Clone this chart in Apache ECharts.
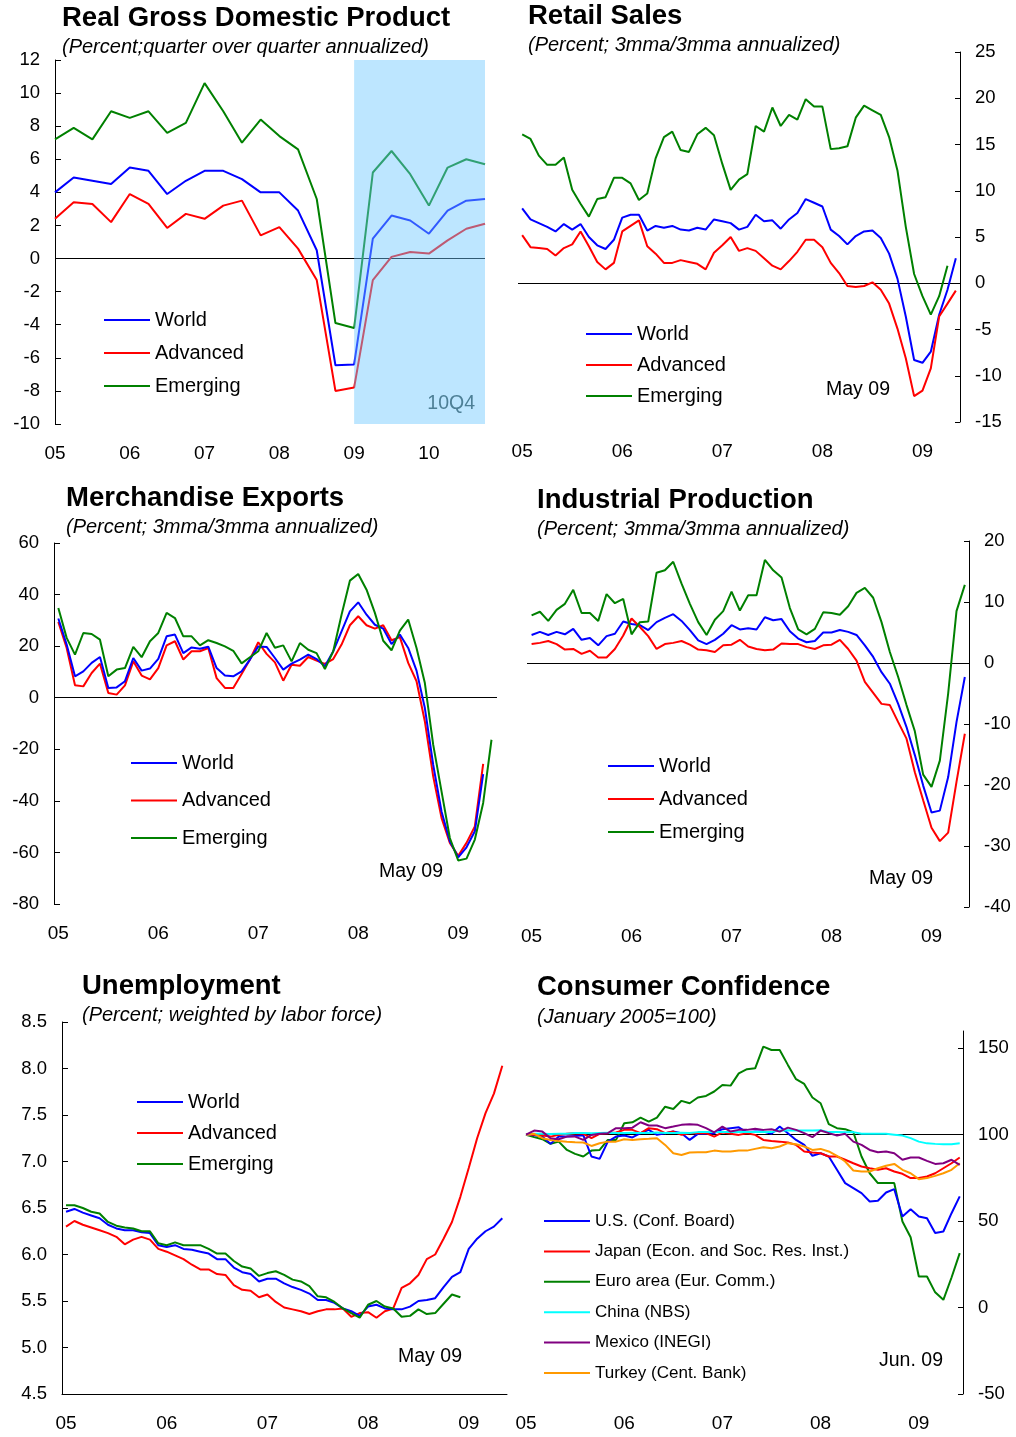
<!DOCTYPE html>
<html>
<head>
<meta charset="utf-8">
<script src="https://cdn.jsdelivr.net/npm/echarts@6/dist/echarts.min.js"></script>
<style>
  html, body { margin: 0; padding: 0; background: #fff; }
  #chart { width: 1016px; height: 1437px; }
</style>
</head>
<body>
<div id="chart"></div>
<script>
// year tick labels (x axes count months from Jan 2005)
const yearLabels = ['05', '06', '07', '08', '09', '10']
const seriesNames = ['World', 'Advanced', 'Emerging']

// Real GDP, quarterly 05Q1..10Q4
const gdpWorld = [4.0, 4.9, 4.7, 4.5, 5.5, 5.3, 3.9, 4.7, 5.3, 5.3, 4.8, 4.0, 4.0, 2.9, 0.5, -6.45, -6.4, 1.2, 2.6, 2.3, 1.5, 2.9, 3.5, 3.6]
const gdpAdvanced = [2.4, 3.4, 3.3, 2.2, 3.9, 3.3, 1.85, 2.7, 2.4, 3.2, 3.5, 1.4, 1.9, 0.6, -1.3, -8.0, -7.8, -1.3, 0.1, 0.4, 0.3, 1.1, 1.8, 2.1]
const gdpEmerging = [7.2, 7.9, 7.2, 8.9, 8.5, 8.9, 7.6, 8.2, 10.6, 8.9, 7.0, 8.4, 7.4, 6.6, 3.6, -3.9, -4.2, 5.2, 6.5, 5.1, 3.2, 5.5, 6.0, 5.7]

// Retail sales, monthly from Jan 05
const retailWorld = [8.1, 6.9, 6.5, 6.1, 5.6, 6.4, 5.8, 6.4, 5.0, 4.1, 3.7, 4.7, 7.1, 7.4, 7.4, 5.7, 6.2, 6.0, 6.2, 5.8, 5.7, 6.0, 5.8, 6.9, 6.7, 6.5, 5.8, 6.1, 7.4, 6.7, 6.8, 5.9, 6.9, 7.6, 9.1, 8.7, 8.3, 5.8, 5.1, 4.2, 5.1, 5.6, 5.7, 4.9, 3.2, 0.5, -3.6, -8.3, -8.6, -7.4, -3.4, -0.7, 2.7]
const retailAdvanced = [5.2, 3.9, 3.8, 3.7, 3.0, 3.8, 4.2, 5.6, 4.0, 2.3, 1.5, 2.2, 5.6, 6.2, 6.8, 4.0, 3.2, 2.2, 2.2, 2.5, 2.3, 2.1, 1.5, 3.3, 4.1, 5.0, 3.5, 3.8, 3.5, 2.7, 1.9, 1.5, 2.4, 3.4, 4.7, 4.7, 3.9, 2.2, 1.1, -0.3, -0.4, -0.3, 0.1, -0.7, -2.2, -4.9, -8.1, -12.2, -11.6, -9.2, -3.6, -2.2, -0.8]
const retailEmerging = [16.1, 15.6, 13.8, 12.8, 12.8, 13.6, 10.1, 8.6, 7.2, 9.1, 9.3, 11.4, 11.4, 10.8, 9.0, 9.7, 13.5, 15.8, 16.4, 14.4, 14.2, 16.1, 16.8, 16.0, 12.9, 10.1, 11.2, 11.8, 17.0, 16.4, 19.0, 17.0, 18.2, 17.7, 19.9, 19.1, 19.1, 14.5, 14.6, 14.8, 17.9, 19.2, 18.7, 18.2, 15.8, 12.2, 6.1, 1.0, -1.4, -3.4, -1.4, 1.9]

// Merchandise exports
const exportsWorld = [30.7, 20.6, 8.3, 10.2, 13.5, 15.8, 3.8, 4.0, 6.4, 15.4, 10.5, 11.3, 15.1, 23.8, 24.5, 17.3, 19.5, 19.0, 19.8, 11.5, 8.6, 8.3, 10.2, 14.8, 19.9, 19.7, 15.4, 10.9, 13.2, 14.8, 16.7, 15.0, 12.2, 18.0, 25.7, 33.5, 37.0, 32.2, 28.3, 26.8, 20.8, 24.5, 19.3, 10.5, -4.0, -26.0, -44.1, -55.7, -61.9, -58.0, -51.8, -29.6]
const exportsAdvanced = [29.4, 19.3, 4.8, 4.4, 9.6, 13.2, 1.8, 1.2, 4.8, 14.1, 8.6, 7.1, 11.5, 20.3, 21.9, 14.8, 18.0, 18.0, 19.3, 7.6, 3.8, 3.8, 9.2, 14.8, 21.5, 17.0, 13.7, 6.6, 12.8, 12.4, 15.8, 14.4, 13.1, 15.0, 20.6, 28.1, 31.6, 28.1, 26.8, 28.1, 22.3, 23.5, 13.5, 6.4, -9.2, -30.5, -46.6, -56.3, -61.3, -56.3, -49.9, -25.7]
const exportsEmerging = [34.8, 23.2, 16.7, 25.1, 24.7, 22.5, 8.3, 10.9, 11.5, 19.7, 15.7, 21.9, 25.1, 32.9, 30.9, 23.8, 23.8, 20.3, 22.3, 21.2, 19.9, 18.2, 13.3, 15.7, 18.0, 25.1, 19.4, 20.3, 14.1, 21.2, 18.6, 17.3, 11.1, 18.0, 32.2, 45.4, 48.0, 41.9, 32.9, 22.1, 18.4, 26.0, 30.3, 19.3, 5.7, -18.2, -36.3, -54.4, -63.1, -62.4, -55.0, -40.8, -16.3]

// Industrial production
const ipWorld = [4.6, 5.1, 4.6, 5.1, 4.7, 5.6, 3.8, 4.1, 2.9, 4.4, 4.8, 6.8, 6.4, 6.2, 5.4, 6.7, 7.4, 8.0, 6.9, 5.4, 3.7, 3.1, 3.8, 4.8, 6.2, 5.5, 5.7, 5.5, 7.5, 7.0, 7.2, 5.2, 4.0, 3.4, 3.6, 5.0, 5.0, 5.4, 5.1, 4.6, 2.9, 1.0, -1.5, -3.4, -6.7, -10.5, -15.1, -20.1, -24.5, -24.2, -18.7, -9.7, -2.3]
const ipAdvanced = [3.1, 3.3, 3.6, 3.1, 2.2, 2.3, 1.5, 2.0, 0.9, 0.9, 2.3, 4.5, 7.3, 5.9, 4.4, 2.3, 3.1, 3.3, 3.6, 3.0, 2.2, 2.1, 1.8, 2.9, 3.0, 3.8, 2.7, 2.3, 2.1, 2.2, 3.2, 3.1, 3.1, 2.6, 2.3, 2.9, 3.0, 3.8, 2.3, 0.4, -3.1, -4.9, -6.7, -6.9, -9.7, -12.4, -17.9, -22.5, -27.0, -29.2, -27.8, -19.5, -11.6]
const ipEmerging = [7.8, 8.4, 6.9, 8.7, 9.7, 12.0, 8.2, 8.2, 6.9, 11.3, 9.8, 10.5, 4.7, 6.7, 6.8, 14.8, 15.2, 16.6, 13.0, 9.7, 6.7, 4.6, 7.1, 8.5, 11.7, 8.6, 11.1, 11.1, 16.9, 15.2, 14.0, 9.0, 5.5, 4.7, 5.6, 8.3, 8.2, 7.9, 9.3, 11.5, 12.3, 10.7, 6.7, 1.8, -2.3, -6.9, -11.2, -18.3, -20.3, -16.0, -5.0, 8.5, 12.8]

// Unemployment
const unempWorld = [6.46, 6.49, 6.45, 6.42, 6.39, 6.32, 6.28, 6.26, 6.26, 6.24, 6.23, 6.10, 6.08, 6.10, 6.06, 6.05, 6.03, 6.01, 5.95, 5.95, 5.86, 5.81, 5.79, 5.71, 5.74, 5.74, 5.69, 5.65, 5.62, 5.58, 5.51, 5.51, 5.48, 5.42, 5.39, 5.34, 5.44, 5.46, 5.42, 5.41, 5.41, 5.44, 5.50, 5.51, 5.53, 5.65, 5.76, 5.81, 6.06, 6.17, 6.25, 6.30, 6.39]
const unempAdvanced = [6.30, 6.36, 6.32, 6.29, 6.26, 6.23, 6.19, 6.11, 6.16, 6.19, 6.16, 6.06, 6.03, 5.99, 5.95, 5.89, 5.84, 5.84, 5.79, 5.78, 5.67, 5.62, 5.61, 5.54, 5.57, 5.49, 5.43, 5.41, 5.39, 5.36, 5.39, 5.41, 5.41, 5.42, 5.33, 5.37, 5.38, 5.32, 5.39, 5.42, 5.64, 5.69, 5.78, 5.95, 6.00, 6.17, 6.35, 6.62, 6.93, 7.25, 7.52, 7.73, 8.03]
const unempEmerging = [6.53, 6.53, 6.50, 6.46, 6.44, 6.35, 6.31, 6.29, 6.28, 6.25, 6.25, 6.12, 6.10, 6.13, 6.10, 6.10, 6.10, 6.06, 6.01, 6.01, 5.93, 5.87, 5.85, 5.77, 5.80, 5.82, 5.78, 5.73, 5.71, 5.66, 5.55, 5.54, 5.49, 5.42, 5.37, 5.32, 5.46, 5.50, 5.44, 5.42, 5.33, 5.34, 5.41, 5.36, 5.37, 5.47, 5.57, 5.54]

// Consumer confidence, Jan 2005 = 100
const ccNames = ['U.S. (Conf. Board)', 'Japan (Econ. and Soc. Res. Inst.)', 'Euro area (Eur. Comm.)', 'China (NBS)', 'Mexico (INEGI)', 'Turkey (Cent. Bank)']
const ccUS = [100, 99.7, 98.9, 94.7, 98.9, 98.9, 99.3, 99.7, 87.4, 86.0, 96.0, 98.9, 99.5, 98.4, 100.9, 102.8, 99.9, 100.9, 101.8, 100.9, 97.0, 100.5, 100.5, 100.9, 103.2, 103.8, 104.3, 101.4, 101.8, 101.8, 100.5, 104.7, 100.9, 97.0, 94.1, 87.8, 89.3, 87.4, 79.7, 72.0, 69.1, 66.2, 61.4, 61.8, 66.6, 68.5, 52.7, 56.9, 52.7, 51.7, 43.1, 44.0, 54.6, 64.3]
const ccJapan = [100, 100, 99.5, 98.9, 99.9, 100.5, 100.9, 100.5, 98.0, 100.5, 100.9, 101.3, 102.8, 102.8, 100.9, 103.8, 103.2, 100.9, 101.8, 99.9, 100.9, 100.9, 100.9, 98.9, 101.3, 100.5, 99.9, 100.9, 99.9, 97.0, 96.4, 96.0, 95.5, 94.1, 90.3, 89.7, 89.3, 87.4, 87.4, 85.5, 83.5, 81.6, 80.6, 79.7, 80.6, 78.7, 77.4, 74.9, 74.9, 75.8, 77.7, 80.6, 83.5, 86.8]
const ccEuro = [100, 98.6, 97.4, 94.7, 96.0, 91.2, 88.9, 87.4, 90.8, 91.2, 97.0, 97.0, 106.6, 107.2, 109.9, 107.6, 109.9, 116.2, 114.9, 119.6, 118.2, 121.5, 122.4, 125.0, 128.8, 128.4, 135.5, 137.9, 138.4, 151.0, 149.0, 149.0, 140.4, 132.1, 129.4, 121.5, 118.2, 106.1, 103.8, 103.2, 101.4, 87.4, 77.7, 72.0, 72.0, 72.0, 49.8, 40.7, 18.0, 18.0, 8.8, 4.5, 17.4, 31.5]
const ccChina = [100, 100.5, 100.5, 100.4, 100.6, 100.5, 101, 101, 100.8, 101, 101.2, 101, 101, 101.2, 101, 101, 101.3, 101, 101, 101.2, 101, 101.5, 101.5, 101.6, 101.5, 101.5, 101.7, 101.5, 101.5, 101.6, 101.5, 102.5, 102.6, 102.5, 102.4, 102.5, 102.6, 101.5, 101.5, 101.4, 101.5, 100.5, 100.5, 100.6, 100.5, 100, 99.5, 98, 96, 95, 94.7, 94.5, 94.5, 95]
const ccMexico = [100, 102.4, 101.8, 98.0, 97.4, 98.9, 98.9, 97.0, 99.9, 100.5, 100.9, 103.8, 103.8, 104.1, 107.2, 105.3, 105.3, 103.8, 104.7, 105.7, 106.1, 105.7, 103.8, 101.4, 104.7, 101.8, 102.8, 102.8, 103.4, 102.8, 103.2, 101.8, 104.1, 102.8, 100.9, 98.6, 102.4, 100.9, 99.5, 100.5, 96.0, 94.1, 91.2, 89.9, 90.3, 89.3, 85.5, 86.8, 86.8, 84.9, 83.1, 83.5, 85.5, 82.6]
const ccTurkey = [100, 100.5, 98.0, 97.0, 96.4, 96.0, 95.7, 95.5, 93.5, 95.1, 96.0, 96.0, 97.4, 97.0, 97.4, 97.6, 98.0, 94.1, 89.3, 88.3, 89.7, 89.9, 89.9, 90.8, 90.3, 90.3, 90.8, 90.8, 91.8, 92.8, 92.2, 93.2, 95.1, 94.5, 93.2, 91.2, 91.8, 90.3, 87.8, 84.5, 79.3, 78.7, 78.7, 80.6, 82.0, 83.1, 79.7, 77.7, 74.3, 74.9, 76.2, 77.7, 79.7, 83.5]

const FONT = '"Liberation Sans", Arial, sans-serif'
const BLUE = '#0000FF', RED = '#FF0000', GREEN = '#008000'

const chart = echarts.init(document.getElementById('chart'), null, { renderer: 'canvas' })

function lineSeries(idx, name, color, values, step) {
  return {
    name: name,
    type: 'line',
    xAxisIndex: idx,
    yAxisIndex: idx,
    data: values.map((v, i) => [i * step, v]),
    symbol: 'none',
    silent: true,
    lineStyle: { color: color, width: 2 },
    itemStyle: { color: color }
  }
}

function refLine(value) {
  return {
    silent: true,
    symbol: 'none',
    z: 1,
    label: { show: false },
    lineStyle: { color: '#000', width: 1, type: 'solid' },
    data: [{ yAxis: value }]
  }
}

function xAxis(idx, min, max, ticks, showLine) {
  return {
    type: 'value',
    gridIndex: idx,
    min: min,
    max: max,
    axisLine: { show: !!showLine, onZero: false, lineStyle: { color: '#000', width: 1 } },
    axisTick: { show: false },
    splitLine: { show: false },
    axisLabel: {
      customValues: ticks,
      formatter: v => yearLabels[Math.round(v / 12)],
      color: '#000',
      fontSize: 19,
      fontFamily: FONT,
      margin: 20
    }
  }
}

function yAxis(idx, pos, min, max, interval) {
  return {
    type: 'value',
    gridIndex: idx,
    position: pos,
    min: min,
    max: max,
    interval: interval,
    axisLine: { show: true, onZero: false, lineStyle: { color: '#000', width: 1 } },
    axisTick: { show: true, inside: true, length: 6, lineStyle: { color: '#000' } },
    splitLine: { show: false },
    axisLabel: { color: '#000', fontSize: 18.5, fontFamily: FONT, margin: 15 }
  }
}

function legend(names, left, top, gap, size) {
  return {
    data: names,
    orient: 'vertical',
    left: left,
    top: top,
    padding: 0,
    icon: 'rect',
    itemWidth: 46,
    itemHeight: 2,
    itemGap: gap,
    selectedMode: false,
    textStyle: { fontSize: size, lineHeight: size, color: '#000', fontFamily: FONT }
  }
}

function label(x, y, text, font, align, color) {
  return {
    type: 'text',
    x: x,
    y: y,
    silent: true,
    style: { text: text, font: font, fill: color || '#000', align: align || 'left', verticalAlign: 'middle' }
  }
}

const TITLE = 'bold 27.5px ' + FONT
const SUB = 'italic 20px ' + FONT
const NOTE = '19.5px ' + FONT
const yearTicks = [0, 12, 24, 36, 48]

const series = [
  lineSeries(0, 'World', BLUE, gdpWorld, 3),
  lineSeries(0, 'Advanced', RED, gdpAdvanced, 3),
  lineSeries(0, 'Emerging', GREEN, gdpEmerging, 3),
  {
    type: 'line', xAxisIndex: 0, yAxisIndex: 0, data: [], silent: true,
    markArea: {
      silent: true,
      z: 10,
      itemStyle: { color: 'rgba(109,200,255,0.45)' },
      label: { show: true, position: 'insideBottomRight', distance: 10, color: '#4d7f96', fontSize: 19.5, fontFamily: FONT },
      data: [[{ name: '10Q4', xAxis: 48 }, { xAxis: 69 }]]
    }
  },
  lineSeries(1, 'World', BLUE, retailWorld, 1),
  lineSeries(1, 'Advanced', RED, retailAdvanced, 1),
  lineSeries(1, 'Emerging', GREEN, retailEmerging, 1),
  lineSeries(2, 'Advanced', RED, exportsAdvanced, 1),
  lineSeries(2, 'World', BLUE, exportsWorld, 1),
  lineSeries(2, 'Emerging', GREEN, exportsEmerging, 1),
  lineSeries(3, 'World', BLUE, ipWorld, 1),
  lineSeries(3, 'Advanced', RED, ipAdvanced, 1),
  lineSeries(3, 'Emerging', GREEN, ipEmerging, 1),
  lineSeries(4, 'Advanced', RED, unempAdvanced, 1),
  lineSeries(4, 'World', BLUE, unempWorld, 1),
  lineSeries(4, 'Emerging', GREEN, unempEmerging, 1),
  lineSeries(5, ccNames[2], GREEN, ccEuro, 1),
  lineSeries(5, ccNames[0], BLUE, ccUS, 1),
  lineSeries(5, ccNames[1], RED, ccJapan, 1),
  lineSeries(5, ccNames[3], '#00FFFF', ccChina, 1),
  lineSeries(5, ccNames[5], '#FF9900', ccTurkey, 1),
  lineSeries(5, ccNames[4], '#800080', ccMexico, 1)
]
series[0].markLine = refLine(0)
series[4].markLine = refLine(0)
series[7].markLine = refLine(0)
series[10].markLine = refLine(0)
series[16].markLine = refLine(100)

const yAxes = [
  yAxis(0, 'left', -10, 12, 2),
  yAxis(1, 'right', -15, 25, 5),
  yAxis(2, 'left', -80, 60, 20),
  yAxis(3, 'right', -40, 20, 10),
  yAxis(4, 'left', 4.5, 8.5, 0.5),
  yAxis(5, 'right', -50, 160, 50)
]
// unemployment keeps one decimal; confidence axis stops labelling at 150
yAxes[4].axisLabel.formatter = v => v.toFixed(1)
yAxes[5].axisLabel.customValues = [-50, 0, 50, 100, 150]
yAxes[5].axisTick.customValues = [-50, 0, 50, 100, 150]
yAxes[1].axisTick.length = 5
yAxes[3].axisTick.length = 5
yAxes[5].axisTick.length = 5

const option = {
  animation: false,
  backgroundColor: '#fff',
  textStyle: { fontFamily: FONT },
  grid: [
    { left: 55, top: 60, width: 430, height: 364 },
    { left: 518, top: 52, width: 442, height: 370 },
    { left: 54, top: 543, width: 443, height: 361 },
    { left: 527, top: 541, width: 442, height: 366 },
    { left: 62, top: 1022, width: 445, height: 372 },
    { left: 526, top: 1031, width: 437, height: 363 }
  ],
  xAxis: [
    xAxis(0, 0, 69, [0, 12, 24, 36, 48, 60]),
    xAxis(1, -0.5, 52.5, yearTicks),
    xAxis(2, -0.52, 52.66, yearTicks),
    xAxis(3, -0.55, 52.5, yearTicks),
    xAxis(4, -0.48, 52.56, yearTicks, true),
    xAxis(5, 0, 53.4, yearTicks)
  ],
  yAxis: yAxes,
  legend: [
    legend(seriesNames, 104, 310, 13, 20),
    legend(seriesNames, 586, 324, 11, 20),
    legend(seriesNames, 131, 753, 17.5, 20),
    legend(seriesNames, 608, 756, 13, 20),
    legend(seriesNames, 137, 1092, 11, 20),
    legend(ccNames, 544, 1212.5, 13.4, 17)
  ],
  graphic: [
    label(62, 18.5, 'Real Gross Domestic Product', TITLE),
    label(62, 47.5, '(Percent;quarter over quarter annualized)', SUB),
    label(528, 16, 'Retail Sales', TITLE),
    label(528, 45, '(Percent; 3mma/3mma annualized)', SUB),
    label(66, 498, 'Merchandise Exports', TITLE),
    label(66, 527.5, '(Percent; 3mma/3mma annualized)', SUB),
    label(537, 500, 'Industrial Production', TITLE),
    label(537, 529, '(Percent; 3mma/3mma annualized)', SUB),
    label(82, 986, 'Unemployment', TITLE),
    label(82, 1015, '(Percent; weighted by labor force)', SUB),
    label(537, 987.5, 'Consumer Confidence', TITLE),
    label(537, 1017, '(January 2005=100)', SUB),
    label(858, 390, 'May 09', NOTE, 'center'),
    label(411, 872, 'May 09', NOTE, 'center'),
    label(901, 879, 'May 09', NOTE, 'center'),
    label(430, 1357, 'May 09', NOTE, 'center'),
    label(911, 1361, 'Jun. 09', NOTE, 'center')
  ],
  series: series
}

chart.setOption(option)
</script>
</body>
</html>
